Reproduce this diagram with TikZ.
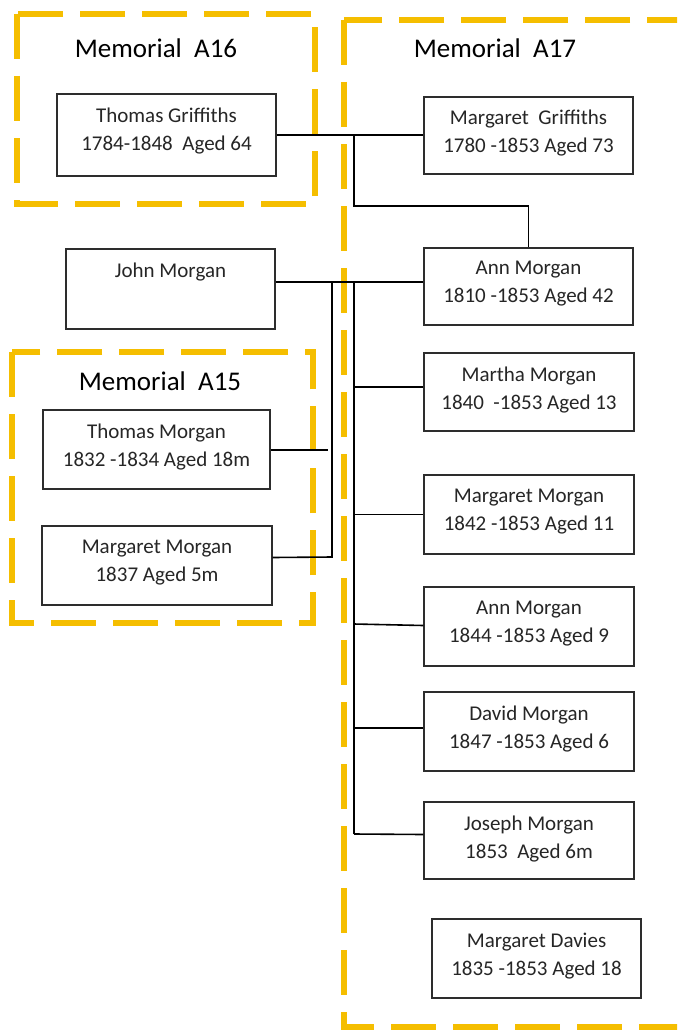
\documentclass[tikz,border=0pt]{standalone}
\usepackage{fontspec}
\setmainfont{Carlito}
\usetikzlibrary{calc}
\definecolor{memgold}{RGB}{245,190,0}
\definecolor{txtgray}{RGB}{38,38,38}
\definecolor{boxgray}{RGB}{45,45,45}
\tikzset{
  memframe/.style={draw=memgold, line width=5.5pt, dash pattern=on 45pt off 17pt},
  person/.style={draw=boxgray, line width=1.2pt, fill=white, inner sep=0pt},
  ptext/.style={anchor=north, align=center, inner sep=0pt, text=txtgray,
    font=\fontsize{21}{28}\selectfont},
  memtitle/.style={anchor=base, inner sep=0pt, text=black, font=\fontsize{27}{30}\selectfont},
  link/.style={draw=black, line width=1.6pt}
}
\begin{document}
\begin{tikzpicture}[x=1pt,y=-1pt]
\useasboundingbox (0,0) rectangle (677,1030);
\clip (0,0) rectangle (677,1030);
\fill[white] (0,0) rectangle (677,1030);
% memorial frames
\draw[memframe] (17,14) rectangle (315,204);
\draw[memframe] (344,20) rectangle (720,1027);
\draw[memframe] (12,352) rectangle (313,623);
\node[memtitle] (tA16) at (156,58) {Memorial\ \ A16};
\node[memtitle] (tA17) at (495,58) {Memorial\ \ A17};
\node[memtitle] (tA15) at (160,390) {Memorial\ \ A15};
% person boxes
\node[person, minimum width=219pt, minimum height=82pt] (tg) at (166.5,135) {};
\node[person, minimum width=209pt, minimum height=77pt] (mg) at (528.5,135.5) {};
\node[person, minimum width=209pt, minimum height=77pt] (am) at (528.5,286.5) {};
\node[person, minimum width=209pt, minimum height=80pt] (jm) at (170.5,289) {};
\node[person, minimum width=227pt, minimum height=79pt] (tm) at (156.5,449.5) {};
\node[person, minimum width=230pt, minimum height=79pt] (mm37) at (157,565.5) {};
\node[person, minimum width=210pt, minimum height=78pt] (mar) at (529,392) {};
\node[person, minimum width=210pt, minimum height=79pt] (mm42) at (529,514.5) {};
\node[person, minimum width=210pt, minimum height=79pt] (am44) at (529,626.5) {};
\node[person, minimum width=210pt, minimum height=79pt] (dm) at (529,731.5) {};
\node[person, minimum width=210pt, minimum height=77pt] (jo) at (529,840.5) {};
\node[person, minimum width=209pt, minimum height=79pt] (md) at (536.5,958.5) {};
% texts
\node[ptext] (tgt) at ([yshift=-14pt]tg.north) {Thomas Griffiths\\1784-1848\ \ Aged 64};
\node[ptext] (mgt) at ([yshift=-13pt]mg.north) {Margaret\ \ Griffiths\\1780 -1853 Aged 73};
\node[ptext] (amt) at ([yshift=-13pt]am.north) {Ann Morgan\\1810 -1853 Aged 42};
\node[ptext] (jmt) at ([yshift=-14pt]jm.north) {John Morgan};
\node[ptext] (tmt) at ([yshift=-14pt]tm.north) {Thomas Morgan\\1832 -1834 Aged 18m};
\node[ptext] (mm37t) at ([yshift=-14pt]mm37.north) {Margaret Morgan\\1837 Aged 5m};
\node[ptext] (mart) at ([yshift=-14pt]mar.north) {Martha Morgan\\1840\ \ -1853 Aged 13};
\node[ptext] (mm42t) at ([yshift=-14pt]mm42.north) {Margaret Morgan\\1842 -1853 Aged 11};
\node[ptext] (am44t) at ([yshift=-14pt]am44.north) {Ann Morgan\\1844 -1853 Aged 9};
\node[ptext] (dmt) at ([yshift=-14pt]dm.north) {David Morgan\\1847 -1853 Aged 6};
\node[ptext] (jot) at ([yshift=-14pt]jo.north) {Joseph Morgan\\1853\ \ Aged 6m};
\node[ptext] (mdt) at ([yshift=-14pt]md.north) {Margaret Davies\\1835 -1853 Aged 18};
% junction coordinates
\coordinate (j1) at (354,135);
\coordinate (j2) at (354,282);
\coordinate (j3) at (332,282);
\coordinate (tmend) at (328,450);
% connectors
\draw[link] (tg.east |- j1) -- (mg.west |- j1);
\draw[link] (j1) -- ++(0,71) -| (am.north);
\draw[link] (jm.east |- j2) -- (am.west |- j2);
\draw[link] (j2) -- ([yshift=6.5pt]j2 |- jo.west);
\draw[link] ([yshift=5pt]j2 |- mar.west) -- ([yshift=5pt]mar.west);
\draw[link] (j2 |- mm42.west) -- (mm42.west);
\draw[link] ([yshift=2.5pt]j2 |- am44.west) -- ([yshift=1pt]am44.west);
\draw[link] ([yshift=3.5pt]j2 |- dm.west) -- ([yshift=3.5pt]dm.west);
\draw[link] ([yshift=6.5pt]j2 |- jo.west) -- ([yshift=6pt]jo.west);
\draw[link] (j3) -- ([yshift=8.5pt]j3 |- mm37.east) -- ([yshift=8pt]mm37.east);
\draw[link] (tm.east |- tmend) -- (tmend);
\end{tikzpicture}
\end{document}
